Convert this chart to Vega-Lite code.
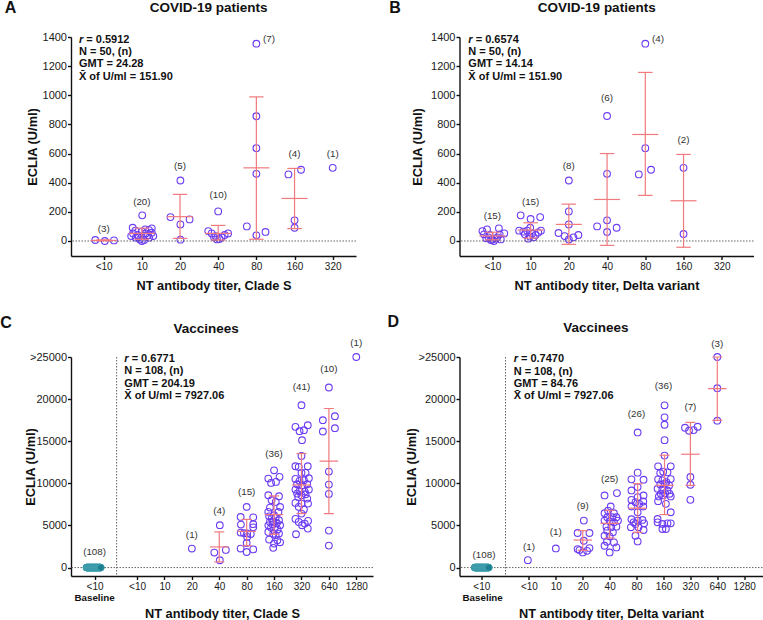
{
"$schema": "https://vega.github.io/schema/vega-lite/v6.json",
"background": "white",
"padding": {"left": 0, "top": 0, "right": 0, "bottom": 0},
"columns": 2,
"spacing": {"row": 22, "column": 13.5},
"concat": [
{
 "width": 285, "height": 219,
 "layer": [
  {"data": {"name": "pts"}, "transform": [{"filter": "datum.p=='A'"}],
   "mark": {"type": "point", "shape": "circle", "filled": false, "stroke": "#6c3cf2", "strokeWidth": 1.1, "size": 45, "opacity": 1},
   "encoding": {
    "x": {"field": "x", "type": "quantitative", "scale": {"domain": [-0.856, 6.61], "nice": false, "zero": false}, "axis": {"values": [0,1,2,3,4,5,6], "tickCount": 50, "labelOverlap": false, "labelExpr": "['<10','10','20','40','80','160','320'][datum.value]", "title": "NT antibody titer, Clade S", "titleY": 23}},
    "y": {"field": "y", "type": "quantitative", "scale": {"domain": [-103, 1400], "nice": false, "zero": false}, "axis": {"values": [0,200,400,600,800,1000,1200,1400], "tickCount": 50, "labelOverlap": false, "format": "d", "title": "ECLIA (U/ml)", "titleX": -32}}
   }},
  {"data": {"values": [{"v": 0}]}, "mark": {"type": "rule", "color": "#555555", "strokeDash": [1.5, 1.5], "strokeWidth": 0.9}, "encoding": {"y": {"field": "v", "type": "quantitative"}}},
  {"data": {"name": "eb"}, "transform": [{"filter": "datum.p=='A'"}], "mark": {"type": "rule", "color": "#f07a7e", "strokeWidth": 1.2}, "encoding": {"x": {"field": "x", "type": "quantitative"}, "y": {"field": "lo", "type": "quantitative"}, "y2": {"field": "hi"}}},
  {"data": {"name": "eb"}, "transform": [{"filter": "datum.p=='A'"}], "mark": {"type": "tick", "orient": "horizontal", "color": "#f07a7e", "thickness": 1.2, "size": 26, "opacity": 1}, "encoding": {"x": {"field": "x", "type": "quantitative"}, "y": {"field": "m", "type": "quantitative"}}},
  {"data": {"name": "eb"}, "transform": [{"filter": "datum.p=='A'"}], "mark": {"type": "tick", "orient": "horizontal", "color": "#f07a7e", "thickness": 1.2, "size": 14.5, "opacity": 1}, "encoding": {"x": {"field": "x", "type": "quantitative"}, "y": {"field": "lo", "type": "quantitative"}}},
  {"data": {"name": "eb"}, "transform": [{"filter": "datum.p=='A'"}], "mark": {"type": "tick", "orient": "horizontal", "color": "#f07a7e", "thickness": 1.2, "size": 14.5, "opacity": 1}, "encoding": {"x": {"field": "x", "type": "quantitative"}, "y": {"field": "hi", "type": "quantitative"}}},
  {"data": {"name": "cnt"}, "transform": [{"filter": "datum.p=='A'"}], "mark": {"type": "text", "fontSize": 9.8, "color": "#333333", "baseline": "middle", "align": "center"}, "encoding": {"x": {"field": "x", "type": "quantitative"}, "y": {"field": "y", "type": "quantitative"}, "text": {"field": "t"}}},
  {"data": {"name": "st"}, "transform": [{"filter": "datum.p=='A'"}], "mark": {"type": "text", "text": "r", "fontSize": 11, "fontWeight": "bold", "fontStyle": "italic", "align": "left", "baseline": "alphabetic", "color": "#111111"}, "encoding": {"x": {"field": "x", "type": "quantitative"}, "y": {"field": "y", "type": "quantitative"}}},
  {"data": {"name": "st"}, "transform": [{"filter": "datum.p=='A'"}], "mark": {"type": "text", "fontSize": 11, "fontWeight": "bold", "align": "left", "baseline": "alphabetic", "dx": 7.3, "color": "#111111"}, "encoding": {"x": {"field": "x", "type": "quantitative"}, "y": {"field": "y", "type": "quantitative"}, "text": {"field": "r"}}},
  {"data": {"name": "st"}, "transform": [{"filter": "datum.p=='A'"}], "mark": {"type": "text", "fontSize": 11, "fontWeight": "bold", "align": "left", "baseline": "alphabetic", "dy": 12.2, "lineHeight": 12.2, "lineBreak": "\n", "color": "#111111"}, "encoding": {"x": {"field": "x", "type": "quantitative"}, "y": {"field": "y", "type": "quantitative"}, "text": {"field": "rest"}}},
  {"data": {"name": "lab"}, "transform": [{"filter": "datum.p=='A' && datum.k=='t'"}], "mark": {"type": "text", "fontSize": 13.5, "fontWeight": "bold", "align": "center", "baseline": "middle", "color": "#111111"}, "encoding": {"x": {"field": "x", "type": "quantitative"}, "y": {"field": "y", "type": "quantitative"}, "text": {"field": "t"}}},
  {"data": {"name": "lab"}, "transform": [{"filter": "datum.p=='A' && datum.k=='l'"}], "mark": {"type": "text", "fontSize": 16, "fontWeight": "bold", "align": "center", "baseline": "middle", "color": "#111111"}, "encoding": {"x": {"field": "x", "type": "quantitative"}, "y": {"field": "y", "type": "quantitative"}, "text": {"field": "t"}}}
 ]
},
{
 "width": 294, "height": 219,
 "layer": [
  {"data": {"name": "pts"}, "transform": [{"filter": "datum.p=='B'"}],
   "mark": {"type": "point", "shape": "circle", "filled": false, "stroke": "#6c3cf2", "strokeWidth": 1.1, "size": 45, "opacity": 1},
   "encoding": {
    "x": {"field": "x", "type": "quantitative", "scale": {"domain": [-0.86, 6.83], "nice": false, "zero": false}, "axis": {"values": [0,1,2,3,4,5,6], "tickCount": 50, "labelOverlap": false, "labelExpr": "['<10','10','20','40','80','160','320'][datum.value]", "title": "NT antibody titer, Delta variant", "titleY": 23}},
    "y": {"field": "y", "type": "quantitative", "scale": {"domain": [-103, 1400], "nice": false, "zero": false}, "axis": {"values": [0,200,400,600,800,1000,1200,1400], "tickCount": 50, "labelOverlap": false, "format": "d", "title": "ECLIA (U/ml)", "titleX": -34.8}}
   }},
  {"data": {"values": [{"v": 0}]}, "mark": {"type": "rule", "color": "#555555", "strokeDash": [1.5, 1.5], "strokeWidth": 0.9}, "encoding": {"y": {"field": "v", "type": "quantitative"}}},
  {"data": {"name": "eb"}, "transform": [{"filter": "datum.p=='B'"}], "mark": {"type": "rule", "color": "#f07a7e", "strokeWidth": 1.2}, "encoding": {"x": {"field": "x", "type": "quantitative"}, "y": {"field": "lo", "type": "quantitative"}, "y2": {"field": "hi"}}},
  {"data": {"name": "eb"}, "transform": [{"filter": "datum.p=='B'"}], "mark": {"type": "tick", "orient": "horizontal", "color": "#f07a7e", "thickness": 1.2, "size": 26, "opacity": 1}, "encoding": {"x": {"field": "x", "type": "quantitative"}, "y": {"field": "m", "type": "quantitative"}}},
  {"data": {"name": "eb"}, "transform": [{"filter": "datum.p=='B'"}], "mark": {"type": "tick", "orient": "horizontal", "color": "#f07a7e", "thickness": 1.2, "size": 14.5, "opacity": 1}, "encoding": {"x": {"field": "x", "type": "quantitative"}, "y": {"field": "lo", "type": "quantitative"}}},
  {"data": {"name": "eb"}, "transform": [{"filter": "datum.p=='B'"}], "mark": {"type": "tick", "orient": "horizontal", "color": "#f07a7e", "thickness": 1.2, "size": 14.5, "opacity": 1}, "encoding": {"x": {"field": "x", "type": "quantitative"}, "y": {"field": "hi", "type": "quantitative"}}},
  {"data": {"name": "cnt"}, "transform": [{"filter": "datum.p=='B'"}], "mark": {"type": "text", "fontSize": 9.8, "color": "#333333", "baseline": "middle", "align": "center"}, "encoding": {"x": {"field": "x", "type": "quantitative"}, "y": {"field": "y", "type": "quantitative"}, "text": {"field": "t"}}},
  {"data": {"name": "st"}, "transform": [{"filter": "datum.p=='B'"}], "mark": {"type": "text", "text": "r", "fontSize": 11, "fontWeight": "bold", "fontStyle": "italic", "align": "left", "baseline": "alphabetic", "color": "#111111"}, "encoding": {"x": {"field": "x", "type": "quantitative"}, "y": {"field": "y", "type": "quantitative"}}},
  {"data": {"name": "st"}, "transform": [{"filter": "datum.p=='B'"}], "mark": {"type": "text", "fontSize": 11, "fontWeight": "bold", "align": "left", "baseline": "alphabetic", "dx": 7.3, "color": "#111111"}, "encoding": {"x": {"field": "x", "type": "quantitative"}, "y": {"field": "y", "type": "quantitative"}, "text": {"field": "r"}}},
  {"data": {"name": "st"}, "transform": [{"filter": "datum.p=='B'"}], "mark": {"type": "text", "fontSize": 11, "fontWeight": "bold", "align": "left", "baseline": "alphabetic", "dy": 12.2, "lineHeight": 12.2, "lineBreak": "\n", "color": "#111111"}, "encoding": {"x": {"field": "x", "type": "quantitative"}, "y": {"field": "y", "type": "quantitative"}, "text": {"field": "rest"}}},
  {"data": {"name": "lab"}, "transform": [{"filter": "datum.p=='B' && datum.k=='t'"}], "mark": {"type": "text", "fontSize": 13.5, "fontWeight": "bold", "align": "center", "baseline": "middle", "color": "#111111"}, "encoding": {"x": {"field": "x", "type": "quantitative"}, "y": {"field": "y", "type": "quantitative"}, "text": {"field": "t"}}},
  {"data": {"name": "lab"}, "transform": [{"filter": "datum.p=='B' && datum.k=='l'"}], "mark": {"type": "text", "fontSize": 16, "fontWeight": "bold", "align": "center", "baseline": "middle", "color": "#111111"}, "encoding": {"x": {"field": "x", "type": "quantitative"}, "y": {"field": "y", "type": "quantitative"}, "text": {"field": "t"}}}
 ]
},
{
 "width": 302, "height": 219,
 "layer": [
  {"data": {"name": "pts"}, "transform": [{"filter": "datum.p=='C'"}],
   "mark": {"type": "point", "shape": "circle", "filled": false, "stroke": "#6c3cf2", "strokeWidth": 1.1, "size": 45, "opacity": 1},
   "encoding": {
    "x": {"field": "x", "type": "quantitative", "scale": {"domain": [-2.41, 8.61], "nice": false, "zero": false}, "axis": {"values": [-1.55,0,1,2,3,4,5,6,7,8], "tickCount": 50, "labelOverlap": false, "labelExpr": "datum.value < 0 ? '<10' : ['<10','10','20','40','80','160','320','640','1280'][datum.value]", "title": "NT antibody titer, Clade S", "titleY": 31.6}},
    "y": {"field": "y", "type": "quantitative", "scale": {"domain": [-1000, 25000], "nice": false, "zero": false}, "axis": {"values": [0,5000,10000,15000,20000,25000], "tickCount": 50, "labelOverlap": false, "labelExpr": "datum.value >= 25000 ? '>25000' : '' + datum.value", "title": "ECLIA (U/ml)", "titleX": -33.1}}
   }},
  {"data": {"values": [{"v": 0}]}, "mark": {"type": "rule", "color": "#555555", "strokeDash": [1.5, 1.5], "strokeWidth": 0.9}, "encoding": {"y": {"field": "v", "type": "quantitative"}}},
  {"data": {"values": [{"w": -0.745}]}, "mark": {"type": "rule", "color": "#555555", "strokeDash": [1.5, 1.5], "strokeWidth": 0.9}, "encoding": {"x": {"field": "w", "type": "quantitative"}}},
  {"data": {"name": "base"}, "transform": [{"filter": "datum.p=='C'"}], "mark": {"type": "point", "shape": "circle", "filled": true, "fill": "#1b7f8f", "stroke": "#4aa6b3", "strokeWidth": 0.6, "size": 45, "opacity": 1}, "encoding": {"x": {"field": "x", "type": "quantitative"}, "y": {"datum": 0}}},
  {"data": {"name": "eb"}, "transform": [{"filter": "datum.p=='C'"}], "mark": {"type": "rule", "color": "#f07a7e", "strokeWidth": 1.2}, "encoding": {"x": {"field": "x", "type": "quantitative"}, "y": {"field": "lo", "type": "quantitative"}, "y2": {"field": "hi"}}},
  {"data": {"name": "eb"}, "transform": [{"filter": "datum.p=='C'"}], "mark": {"type": "tick", "orient": "horizontal", "color": "#f07a7e", "thickness": 1.2, "size": 18.5, "opacity": 1}, "encoding": {"x": {"field": "x", "type": "quantitative"}, "y": {"field": "m", "type": "quantitative"}}},
  {"data": {"name": "eb"}, "transform": [{"filter": "datum.p=='C'"}], "mark": {"type": "tick", "orient": "horizontal", "color": "#f07a7e", "thickness": 1.2, "size": 10, "opacity": 1}, "encoding": {"x": {"field": "x", "type": "quantitative"}, "y": {"field": "lo", "type": "quantitative"}}},
  {"data": {"name": "eb"}, "transform": [{"filter": "datum.p=='C'"}], "mark": {"type": "tick", "orient": "horizontal", "color": "#f07a7e", "thickness": 1.2, "size": 10, "opacity": 1}, "encoding": {"x": {"field": "x", "type": "quantitative"}, "y": {"field": "hi", "type": "quantitative"}}},
  {"data": {"name": "cnt"}, "transform": [{"filter": "datum.p=='C'"}], "mark": {"type": "text", "fontSize": 9.8, "color": "#333333", "baseline": "middle", "align": "center"}, "encoding": {"x": {"field": "x", "type": "quantitative"}, "y": {"field": "y", "type": "quantitative"}, "text": {"field": "t"}}},
  {"data": {"name": "st"}, "transform": [{"filter": "datum.p=='C'"}], "mark": {"type": "text", "text": "r", "fontSize": 11, "fontWeight": "bold", "fontStyle": "italic", "align": "left", "baseline": "alphabetic", "color": "#111111"}, "encoding": {"x": {"field": "x", "type": "quantitative"}, "y": {"field": "y", "type": "quantitative"}}},
  {"data": {"name": "st"}, "transform": [{"filter": "datum.p=='C'"}], "mark": {"type": "text", "fontSize": 11, "fontWeight": "bold", "align": "left", "baseline": "alphabetic", "dx": 7.3, "color": "#111111"}, "encoding": {"x": {"field": "x", "type": "quantitative"}, "y": {"field": "y", "type": "quantitative"}, "text": {"field": "r"}}},
  {"data": {"name": "st"}, "transform": [{"filter": "datum.p=='C'"}], "mark": {"type": "text", "fontSize": 11, "fontWeight": "bold", "align": "left", "baseline": "alphabetic", "dy": 12.2, "lineHeight": 12.2, "lineBreak": "\n", "color": "#111111"}, "encoding": {"x": {"field": "x", "type": "quantitative"}, "y": {"field": "y", "type": "quantitative"}, "text": {"field": "rest"}}},
  {"data": {"name": "lab"}, "transform": [{"filter": "datum.p=='C' && datum.k=='t'"}], "mark": {"type": "text", "fontSize": 13.5, "fontWeight": "bold", "align": "center", "baseline": "middle", "color": "#111111"}, "encoding": {"x": {"field": "x", "type": "quantitative"}, "y": {"field": "y", "type": "quantitative"}, "text": {"field": "t"}}},
  {"data": {"name": "lab"}, "transform": [{"filter": "datum.p=='C' && datum.k=='l'"}], "mark": {"type": "text", "fontSize": 16, "fontWeight": "bold", "align": "center", "baseline": "middle", "color": "#111111"}, "encoding": {"x": {"field": "x", "type": "quantitative"}, "y": {"field": "y", "type": "quantitative"}, "text": {"field": "t"}}},
  {"data": {"name": "lab"}, "transform": [{"filter": "datum.p=='C' && datum.k=='b'"}], "mark": {"type": "text", "fontSize": 9.8, "fontWeight": "bold", "align": "center", "baseline": "middle", "color": "#111111"}, "encoding": {"x": {"field": "x", "type": "quantitative"}, "y": {"field": "y", "type": "quantitative"}, "text": {"field": "t"}}}
 ]
},
{
 "width": 303, "height": 219,
 "layer": [
  {"data": {"name": "pts"}, "transform": [{"filter": "datum.p=='D'"}],
   "mark": {"type": "point", "shape": "circle", "filled": false, "stroke": "#6c3cf2", "strokeWidth": 1.1, "size": 45, "opacity": 1},
   "encoding": {
    "x": {"field": "x", "type": "quantitative", "scale": {"domain": [-2.58, 8.68], "nice": false, "zero": false}, "axis": {"values": [-1.77,0,1,2,3,4,5,6,7,8], "tickCount": 50, "labelOverlap": false, "labelExpr": "datum.value < 0 ? '<10' : ['<10','10','20','40','80','160','320','640','1280'][datum.value]", "title": "NT antibody titer, Delta variant", "titleY": 31.3}},
    "y": {"field": "y", "type": "quantitative", "scale": {"domain": [-1000, 25000], "nice": false, "zero": false}, "axis": {"values": [0,5000,10000,15000,20000,25000], "tickCount": 50, "labelOverlap": false, "labelExpr": "datum.value >= 25000 ? '>25000' : '' + datum.value", "title": "ECLIA (U/ml)", "titleX": -40.8}}
   }},
  {"data": {"values": [{"v": 0}]}, "mark": {"type": "rule", "color": "#555555", "strokeDash": [1.5, 1.5], "strokeWidth": 0.9}, "encoding": {"y": {"field": "v", "type": "quantitative"}}},
  {"data": {"values": [{"w": -0.87}]}, "mark": {"type": "rule", "color": "#555555", "strokeDash": [1.5, 1.5], "strokeWidth": 0.9}, "encoding": {"x": {"field": "w", "type": "quantitative"}}},
  {"data": {"name": "base"}, "transform": [{"filter": "datum.p=='D'"}], "mark": {"type": "point", "shape": "circle", "filled": true, "fill": "#1b7f8f", "stroke": "#4aa6b3", "strokeWidth": 0.6, "size": 45, "opacity": 1}, "encoding": {"x": {"field": "x", "type": "quantitative"}, "y": {"datum": 0}}},
  {"data": {"name": "eb"}, "transform": [{"filter": "datum.p=='D'"}], "mark": {"type": "rule", "color": "#f07a7e", "strokeWidth": 1.2}, "encoding": {"x": {"field": "x", "type": "quantitative"}, "y": {"field": "lo", "type": "quantitative"}, "y2": {"field": "hi"}}},
  {"data": {"name": "eb"}, "transform": [{"filter": "datum.p=='D'"}], "mark": {"type": "tick", "orient": "horizontal", "color": "#f07a7e", "thickness": 1.2, "size": 18.5, "opacity": 1}, "encoding": {"x": {"field": "x", "type": "quantitative"}, "y": {"field": "m", "type": "quantitative"}}},
  {"data": {"name": "eb"}, "transform": [{"filter": "datum.p=='D'"}], "mark": {"type": "tick", "orient": "horizontal", "color": "#f07a7e", "thickness": 1.2, "size": 10, "opacity": 1}, "encoding": {"x": {"field": "x", "type": "quantitative"}, "y": {"field": "lo", "type": "quantitative"}}},
  {"data": {"name": "eb"}, "transform": [{"filter": "datum.p=='D'"}], "mark": {"type": "tick", "orient": "horizontal", "color": "#f07a7e", "thickness": 1.2, "size": 10, "opacity": 1}, "encoding": {"x": {"field": "x", "type": "quantitative"}, "y": {"field": "hi", "type": "quantitative"}}},
  {"data": {"name": "cnt"}, "transform": [{"filter": "datum.p=='D'"}], "mark": {"type": "text", "fontSize": 9.8, "color": "#333333", "baseline": "middle", "align": "center"}, "encoding": {"x": {"field": "x", "type": "quantitative"}, "y": {"field": "y", "type": "quantitative"}, "text": {"field": "t"}}},
  {"data": {"name": "st"}, "transform": [{"filter": "datum.p=='D'"}], "mark": {"type": "text", "text": "r", "fontSize": 11, "fontWeight": "bold", "fontStyle": "italic", "align": "left", "baseline": "alphabetic", "color": "#111111"}, "encoding": {"x": {"field": "x", "type": "quantitative"}, "y": {"field": "y", "type": "quantitative"}}},
  {"data": {"name": "st"}, "transform": [{"filter": "datum.p=='D'"}], "mark": {"type": "text", "fontSize": 11, "fontWeight": "bold", "align": "left", "baseline": "alphabetic", "dx": 7.3, "color": "#111111"}, "encoding": {"x": {"field": "x", "type": "quantitative"}, "y": {"field": "y", "type": "quantitative"}, "text": {"field": "r"}}},
  {"data": {"name": "st"}, "transform": [{"filter": "datum.p=='D'"}], "mark": {"type": "text", "fontSize": 11, "fontWeight": "bold", "align": "left", "baseline": "alphabetic", "dy": 12.2, "lineHeight": 12.2, "lineBreak": "\n", "color": "#111111"}, "encoding": {"x": {"field": "x", "type": "quantitative"}, "y": {"field": "y", "type": "quantitative"}, "text": {"field": "rest"}}},
  {"data": {"name": "lab"}, "transform": [{"filter": "datum.p=='D' && datum.k=='t'"}], "mark": {"type": "text", "fontSize": 13.5, "fontWeight": "bold", "align": "center", "baseline": "middle", "color": "#111111"}, "encoding": {"x": {"field": "x", "type": "quantitative"}, "y": {"field": "y", "type": "quantitative"}, "text": {"field": "t"}}},
  {"data": {"name": "lab"}, "transform": [{"filter": "datum.p=='D' && datum.k=='l'"}], "mark": {"type": "text", "fontSize": 16, "fontWeight": "bold", "align": "center", "baseline": "middle", "color": "#111111"}, "encoding": {"x": {"field": "x", "type": "quantitative"}, "y": {"field": "y", "type": "quantitative"}, "text": {"field": "t"}}},
  {"data": {"name": "lab"}, "transform": [{"filter": "datum.p=='D' && datum.k=='b'"}], "mark": {"type": "text", "fontSize": 9.8, "fontWeight": "bold", "align": "center", "baseline": "middle", "color": "#111111"}, "encoding": {"x": {"field": "x", "type": "quantitative"}, "y": {"field": "y", "type": "quantitative"}, "text": {"field": "t"}}}
 ]
}
],
"datasets": {
"pts": [
{"p":"A","x":-0.22,"y":7},{"p":"A","x":0.03,"y":0},{"p":"A","x":0.27,"y":4},
{"p":"A","x":1.01,"y":176},{"p":"A","x":0.76,"y":91},{"p":"A","x":1.26,"y":87},{"p":"A","x":0.83,"y":71},{"p":"A","x":1.19,"y":75},{"p":"A","x":0.77,"y":52},{"p":"A","x":1.26,"y":57},{"p":"A","x":0.89,"y":41},{"p":"A","x":1.1,"y":52},{"p":"A","x":0.84,"y":23},{"p":"A","x":1.19,"y":23},{"p":"A","x":0.95,"y":11},{"p":"A","x":1.06,"y":7},{"p":"A","x":1.0,"y":0},{"p":"A","x":0.91,"y":25},{"p":"A","x":1.16,"y":39},{"p":"A","x":1.0,"y":64},{"p":"A","x":1.3,"y":34},{"p":"A","x":0.72,"y":34},{"p":"A","x":1.09,"y":80},
{"p":"A","x":2.01,"y":415},{"p":"A","x":1.75,"y":164},{"p":"A","x":2.25,"y":148},{"p":"A","x":2.01,"y":114},{"p":"A","x":2.01,"y":9},
{"p":"A","x":3.0,"y":203},{"p":"A","x":2.74,"y":68},{"p":"A","x":2.83,"y":52},{"p":"A","x":2.93,"y":34},{"p":"A","x":3.03,"y":14},{"p":"A","x":3.09,"y":25},{"p":"A","x":3.17,"y":41},{"p":"A","x":3.26,"y":52},{"p":"A","x":2.89,"y":25},{"p":"A","x":2.97,"y":11},
{"p":"A","x":4,"y":1354},{"p":"A","x":4,"y":856},{"p":"A","x":4,"y":637},{"p":"A","x":4,"y":461},{"p":"A","x":3.75,"y":100},{"p":"A","x":4.24,"y":62},{"p":"A","x":4,"y":39},
{"p":"A","x":4.84,"y":457},{"p":"A","x":5.17,"y":489},{"p":"A","x":5,"y":142},{"p":"A","x":5,"y":91},
{"p":"A","x":6,"y":502},
{"p":"B","x":-0.26,"y":68},{"p":"B","x":-0.14,"y":80},{"p":"B","x":0.17,"y":87},{"p":"B","x":-0.22,"y":46},{"p":"B","x":0.31,"y":52},{"p":"B","x":-0.1,"y":25},{"p":"B","x":0.13,"y":25},{"p":"B","x":-0.04,"y":7},{"p":"B","x":0.04,"y":0},{"p":"B","x":0.22,"y":11},{"p":"B","x":-0.16,"y":18},{"p":"B","x":0.09,"y":16},{"p":"B","x":0,"y":11},{"p":"B","x":-0.07,"y":41},{"p":"B","x":0.19,"y":46},
{"p":"B","x":0.74,"y":176},{"p":"B","x":1.25,"y":164},{"p":"B","x":1.0,"y":151},{"p":"B","x":0.99,"y":91},{"p":"B","x":0.7,"y":71},{"p":"B","x":0.81,"y":64},{"p":"B","x":0.91,"y":71},{"p":"B","x":1.27,"y":71},{"p":"B","x":1.2,"y":59},{"p":"B","x":0.85,"y":46},{"p":"B","x":0.98,"y":30},{"p":"B","x":1.08,"y":25},{"p":"B","x":0.94,"y":16},{"p":"B","x":1.13,"y":41},{"p":"B","x":1.04,"y":52},
{"p":"B","x":2,"y":415},{"p":"B","x":2,"y":203},{"p":"B","x":2,"y":114},{"p":"B","x":1.73,"y":55},{"p":"B","x":1.89,"y":34},{"p":"B","x":2,"y":11},{"p":"B","x":2.12,"y":25},{"p":"B","x":2.25,"y":41},
{"p":"B","x":3,"y":858},{"p":"B","x":3,"y":461},{"p":"B","x":3,"y":142},{"p":"B","x":2.74,"y":100},{"p":"B","x":3.25,"y":91},{"p":"B","x":3,"y":62},
{"p":"B","x":4,"y":1354},{"p":"B","x":4,"y":637},{"p":"B","x":3.83,"y":457},{"p":"B","x":4.15,"y":489},
{"p":"B","x":5,"y":502},{"p":"B","x":5,"y":48},
{"p":"C","x":2,"y":2257},
{"p":"C","x":3.02,"y":5030},{"p":"C","x":2.82,"y":1782},{"p":"C","x":3.24,"y":2099},{"p":"C","x":3.02,"y":871},
{"p":"C","x":4,"y":7200},{"p":"C","x":3.78,"y":6010},{"p":"C","x":4.24,"y":5970},{"p":"C","x":3.79,"y":5110},{"p":"C","x":4.24,"y":5150},{"p":"C","x":4.24,"y":4780},{"p":"C","x":3.78,"y":4160},{"p":"C","x":3.9,"y":4100},{"p":"C","x":4.02,"y":4050},{"p":"C","x":4.15,"y":3980},{"p":"C","x":4.02,"y":3640},{"p":"C","x":4,"y":2920},{"p":"C","x":3.78,"y":2260},{"p":"C","x":4,"y":1850},{"p":"C","x":4.24,"y":2160},
{"p":"C","x":5,"y":11550},{"p":"C","x":4.79,"y":10570},{"p":"C","x":5.2,"y":10770},{"p":"C","x":4.89,"y":10050},{"p":"C","x":5.07,"y":10170},{"p":"C","x":4.79,"y":8590},{"p":"C","x":5.18,"y":8470},{"p":"C","x":4.91,"y":8000},{"p":"C","x":5.06,"y":7800},{"p":"C","x":5.22,"y":7200},{"p":"C","x":4.85,"y":7120},{"p":"C","x":4.79,"y":6610},{"p":"C","x":5.16,"y":6600},{"p":"C","x":5,"y":6210},{"p":"C","x":4.82,"y":6090},{"p":"C","x":4.91,"y":5820},{"p":"C","x":5.06,"y":5940},{"p":"C","x":5.18,"y":5620},{"p":"C","x":4.85,"y":5420},{"p":"C","x":4.97,"y":5430},{"p":"C","x":5.1,"y":5300},{"p":"C","x":4.79,"y":5020},{"p":"C","x":4.94,"y":5140},{"p":"C","x":5.22,"y":5030},{"p":"C","x":5.04,"y":4830},{"p":"C","x":4.89,"y":4750},{"p":"C","x":5.13,"y":4510},{"p":"C","x":4.79,"y":4230},{"p":"C","x":4.97,"y":4030},{"p":"C","x":5.18,"y":4040},{"p":"C","x":5.06,"y":3840},{"p":"C","x":4.82,"y":3320},{"p":"C","x":5.22,"y":3000},{"p":"C","x":5,"y":2850},{"p":"C","x":5.12,"y":3240},{"p":"C","x":4.97,"y":2340},
{"p":"C","x":6,"y":19280},{"p":"C","x":5.78,"y":16706},{"p":"C","x":6.23,"y":16904},{"p":"C","x":6.09,"y":16310},{"p":"C","x":5.93,"y":16190},{"p":"C","x":6.02,"y":15122},{"p":"C","x":6,"y":13261},{"p":"C","x":5.78,"y":12033},{"p":"C","x":5.9,"y":11954},{"p":"C","x":6.23,"y":12033},{"p":"C","x":6,"y":11242},{"p":"C","x":6.15,"y":11242},{"p":"C","x":5.78,"y":10528},{"p":"C","x":6.27,"y":10607},{"p":"C","x":5.93,"y":10291},{"p":"C","x":6.09,"y":10370},{"p":"C","x":5.84,"y":9895},{"p":"C","x":6.02,"y":9776},{"p":"C","x":6.21,"y":9895},{"p":"C","x":5.78,"y":9261},{"p":"C","x":5.93,"y":9064},{"p":"C","x":6.12,"y":9025},{"p":"C","x":6.27,"y":9261},{"p":"C","x":5.84,"y":8786},{"p":"C","x":6,"y":8588},{"p":"C","x":6.15,"y":8707},{"p":"C","x":5.88,"y":8390},{"p":"C","x":6.21,"y":8192},{"p":"C","x":6,"y":7598},{"p":"C","x":5.78,"y":7677},{"p":"C","x":6.24,"y":7598},{"p":"C","x":5.9,"y":7202},{"p":"C","x":6.09,"y":6885},{"p":"C","x":6,"y":6410},{"p":"C","x":5.78,"y":5776},{"p":"C","x":6.24,"y":5539},{"p":"C","x":5.9,"y":5420},{"p":"C","x":6.12,"y":5222},{"p":"C","x":6.02,"y":5024},{"p":"C","x":5.8,"y":3955},{"p":"C","x":6.23,"y":4628},
{"p":"C","x":7,"y":21379},{"p":"C","x":6.78,"y":17498},{"p":"C","x":7.22,"y":17973},{"p":"C","x":6.78,"y":16152},{"p":"C","x":7.22,"y":16548},{"p":"C","x":7,"y":11400},{"p":"C","x":7,"y":9855},{"p":"C","x":7,"y":8746},{"p":"C","x":7,"y":4390},{"p":"C","x":7,"y":2608},
{"p":"C","x":8,"y":25000},
{"p":"D","x":-0.04,"y":880},
{"p":"D","x":1,"y":2273},
{"p":"D","x":2.04,"y":5576},{"p":"D","x":1.81,"y":4103},{"p":"D","x":2.25,"y":4103},{"p":"D","x":2.04,"y":3188},{"p":"D","x":1.81,"y":2193},{"p":"D","x":2.25,"y":2313},{"p":"D","x":2,"y":1795},{"p":"D","x":1.88,"y":2074},{"p":"D","x":2.16,"y":1994},
{"p":"D","x":2.81,"y":8562},{"p":"D","x":3.27,"y":8840},{"p":"D","x":3.04,"y":7248},{"p":"D","x":2.81,"y":6451},{"p":"D","x":3.16,"y":6451},{"p":"D","x":2.91,"y":5974},{"p":"D","x":3.25,"y":5974},{"p":"D","x":2.81,"y":5576},{"p":"D","x":3,"y":5496},{"p":"D","x":3.16,"y":5377},{"p":"D","x":3.31,"y":5576},{"p":"D","x":2.88,"y":4859},{"p":"D","x":3.06,"y":4779},{"p":"D","x":3.25,"y":4859},{"p":"D","x":2.91,"y":4382},{"p":"D","x":3.12,"y":4182},{"p":"D","x":2.81,"y":3784},{"p":"D","x":3,"y":3706},{"p":"D","x":2.9,"y":3069},{"p":"D","x":2.81,"y":2590},{"p":"D","x":3.25,"y":2393},{"p":"D","x":3,"y":1795},{"p":"D","x":3.16,"y":2990},{"p":"D","x":3.09,"y":5974},{"p":"D","x":2.94,"y":6770},
{"p":"D","x":4.04,"y":16043},{"p":"D","x":4.04,"y":11268},{"p":"D","x":3.81,"y":10472},{"p":"D","x":4.26,"y":10432},{"p":"D","x":4.04,"y":9556},{"p":"D","x":3.81,"y":9158},{"p":"D","x":4.26,"y":8561},{"p":"D","x":4.04,"y":8362},{"p":"D","x":3.81,"y":8044},{"p":"D","x":4.25,"y":7845},{"p":"D","x":3.96,"y":7765},{"p":"D","x":4.1,"y":7566},{"p":"D","x":3.81,"y":7248},{"p":"D","x":4.25,"y":7248},{"p":"D","x":4.04,"y":6571},{"p":"D","x":3.81,"y":5735},{"p":"D","x":4.04,"y":5576},{"p":"D","x":4.22,"y":5655},{"p":"D","x":3.89,"y":5377},{"p":"D","x":3.96,"y":5178},{"p":"D","x":4.28,"y":5258},{"p":"D","x":3.79,"y":4780},{"p":"D","x":4.07,"y":4780},{"p":"D","x":4.26,"y":4461},{"p":"D","x":3.96,"y":3785},{"p":"D","x":4.04,"y":3109},
{"p":"D","x":5.04,"y":19267},{"p":"D","x":5.04,"y":17834},{"p":"D","x":5.04,"y":16959},{"p":"D","x":5.04,"y":15128},{"p":"D","x":5.04,"y":13297},{"p":"D","x":4.8,"y":12024},{"p":"D","x":5.27,"y":12024},{"p":"D","x":4.99,"y":11386},{"p":"D","x":4.88,"y":11228},{"p":"D","x":5.15,"y":11307},{"p":"D","x":4.8,"y":10472},{"p":"D","x":5.27,"y":10512},{"p":"D","x":4.96,"y":10352},{"p":"D","x":5.11,"y":10153},{"p":"D","x":4.88,"y":9874},{"p":"D","x":5.05,"y":9954},{"p":"D","x":5.21,"y":9755},{"p":"D","x":4.78,"y":9357},{"p":"D","x":4.96,"y":9238},{"p":"D","x":5.15,"y":9158},{"p":"D","x":4.9,"y":8760},{"p":"D","x":5.06,"y":8840},{"p":"D","x":5.23,"y":8760},{"p":"D","x":4.83,"y":8442},{"p":"D","x":4.99,"y":8561},{"p":"D","x":5.27,"y":8442},{"p":"D","x":4.8,"y":7885},{"p":"D","x":5.09,"y":7566},{"p":"D","x":5.27,"y":6571},{"p":"D","x":4.78,"y":5775},{"p":"D","x":4.96,"y":5178},{"p":"D","x":5.15,"y":5258},{"p":"D","x":4.78,"y":5377},{"p":"D","x":4.96,"y":4580},{"p":"D","x":5.09,"y":4580},{"p":"D","x":5.27,"y":5258},
{"p":"D","x":5.8,"y":16600},{"p":"D","x":5.95,"y":16242},{"p":"D","x":6.12,"y":16322},{"p":"D","x":6.27,"y":16720},{"p":"D","x":6,"y":10750},{"p":"D","x":6,"y":9834},{"p":"D","x":6,"y":8044},
{"p":"D","x":7,"y":25000},{"p":"D","x":7,"y":21297},{"p":"D","x":7,"y":17436}
],
"base": [
{"p":"C","x":-1.85},{"p":"C","x":-1.85},{"p":"C","x":-1.84},{"p":"C","x":-1.84},{"p":"C","x":-1.83},{"p":"C","x":-1.83},{"p":"C","x":-1.82},{"p":"C","x":-1.82},{"p":"C","x":-1.81},{"p":"C","x":-1.81},{"p":"C","x":-1.8},{"p":"C","x":-1.8},{"p":"C","x":-1.79},{"p":"C","x":-1.79},{"p":"C","x":-1.78},{"p":"C","x":-1.78},{"p":"C","x":-1.77},{"p":"C","x":-1.77},{"p":"C","x":-1.76},{"p":"C","x":-1.76},{"p":"C","x":-1.75},{"p":"C","x":-1.75},{"p":"C","x":-1.74},{"p":"C","x":-1.74},{"p":"C","x":-1.73},{"p":"C","x":-1.73},{"p":"C","x":-1.72},{"p":"C","x":-1.72},{"p":"C","x":-1.71},{"p":"C","x":-1.71},{"p":"C","x":-1.7},{"p":"C","x":-1.7},{"p":"C","x":-1.69},{"p":"C","x":-1.69},{"p":"C","x":-1.68},{"p":"C","x":-1.68},{"p":"C","x":-1.67},{"p":"C","x":-1.67},{"p":"C","x":-1.66},{"p":"C","x":-1.66},{"p":"C","x":-1.65},{"p":"C","x":-1.65},{"p":"C","x":-1.64},{"p":"C","x":-1.64},{"p":"C","x":-1.63},{"p":"C","x":-1.63},{"p":"C","x":-1.62},{"p":"C","x":-1.62},{"p":"C","x":-1.61},{"p":"C","x":-1.61},{"p":"C","x":-1.6},{"p":"C","x":-1.6},{"p":"C","x":-1.59},{"p":"C","x":-1.59},{"p":"C","x":-1.58},{"p":"C","x":-1.58},{"p":"C","x":-1.57},{"p":"C","x":-1.57},{"p":"C","x":-1.56},{"p":"C","x":-1.56},{"p":"C","x":-1.55},{"p":"C","x":-1.55},{"p":"C","x":-1.54},{"p":"C","x":-1.54},{"p":"C","x":-1.53},{"p":"C","x":-1.53},{"p":"C","x":-1.52},{"p":"C","x":-1.52},{"p":"C","x":-1.51},{"p":"C","x":-1.51},{"p":"C","x":-1.5},{"p":"C","x":-1.5},{"p":"C","x":-1.49},{"p":"C","x":-1.49},{"p":"C","x":-1.48},{"p":"C","x":-1.48},{"p":"C","x":-1.47},{"p":"C","x":-1.47},{"p":"C","x":-1.46},{"p":"C","x":-1.46},{"p":"C","x":-1.45},{"p":"C","x":-1.45},{"p":"C","x":-1.44},{"p":"C","x":-1.44},{"p":"C","x":-1.43},{"p":"C","x":-1.43},{"p":"C","x":-1.42},{"p":"C","x":-1.42},{"p":"C","x":-1.41},{"p":"C","x":-1.41},{"p":"C","x":-1.4},{"p":"C","x":-1.4},{"p":"C","x":-1.39},{"p":"C","x":-1.39},{"p":"C","x":-1.38},{"p":"C","x":-1.38},{"p":"C","x":-1.37},{"p":"C","x":-1.37},{"p":"C","x":-1.36},{"p":"C","x":-1.36},{"p":"C","x":-1.35},{"p":"C","x":-1.35},{"p":"C","x":-1.34},{"p":"C","x":-1.34},{"p":"C","x":-1.33},{"p":"C","x":-1.33},{"p":"C","x":-1.32},{"p":"C","x":-1.32},
{"p":"D","x":-2.02},{"p":"D","x":-2.02},{"p":"D","x":-2.01},{"p":"D","x":-2.01},{"p":"D","x":-2.0},{"p":"D","x":-2.0},{"p":"D","x":-1.99},{"p":"D","x":-1.99},{"p":"D","x":-1.98},{"p":"D","x":-1.98},{"p":"D","x":-1.97},{"p":"D","x":-1.97},{"p":"D","x":-1.96},{"p":"D","x":-1.96},{"p":"D","x":-1.95},{"p":"D","x":-1.95},{"p":"D","x":-1.94},{"p":"D","x":-1.94},{"p":"D","x":-1.93},{"p":"D","x":-1.93},{"p":"D","x":-1.92},{"p":"D","x":-1.92},{"p":"D","x":-1.91},{"p":"D","x":-1.91},{"p":"D","x":-1.9},{"p":"D","x":-1.9},{"p":"D","x":-1.89},{"p":"D","x":-1.89},{"p":"D","x":-1.88},{"p":"D","x":-1.88},{"p":"D","x":-1.87},{"p":"D","x":-1.87},{"p":"D","x":-1.86},{"p":"D","x":-1.86},{"p":"D","x":-1.85},{"p":"D","x":-1.85},{"p":"D","x":-1.84},{"p":"D","x":-1.84},{"p":"D","x":-1.83},{"p":"D","x":-1.83},{"p":"D","x":-1.82},{"p":"D","x":-1.82},{"p":"D","x":-1.81},{"p":"D","x":-1.81},{"p":"D","x":-1.8},{"p":"D","x":-1.8},{"p":"D","x":-1.79},{"p":"D","x":-1.79},{"p":"D","x":-1.78},{"p":"D","x":-1.78},{"p":"D","x":-1.77},{"p":"D","x":-1.77},{"p":"D","x":-1.76},{"p":"D","x":-1.76},{"p":"D","x":-1.75},{"p":"D","x":-1.75},{"p":"D","x":-1.74},{"p":"D","x":-1.74},{"p":"D","x":-1.73},{"p":"D","x":-1.73},{"p":"D","x":-1.72},{"p":"D","x":-1.72},{"p":"D","x":-1.71},{"p":"D","x":-1.71},{"p":"D","x":-1.7},{"p":"D","x":-1.7},{"p":"D","x":-1.69},{"p":"D","x":-1.69},{"p":"D","x":-1.68},{"p":"D","x":-1.68},{"p":"D","x":-1.67},{"p":"D","x":-1.67},{"p":"D","x":-1.66},{"p":"D","x":-1.66},{"p":"D","x":-1.65},{"p":"D","x":-1.65},{"p":"D","x":-1.64},{"p":"D","x":-1.64},{"p":"D","x":-1.63},{"p":"D","x":-1.63},{"p":"D","x":-1.62},{"p":"D","x":-1.62},{"p":"D","x":-1.61},{"p":"D","x":-1.61},{"p":"D","x":-1.6},{"p":"D","x":-1.6},{"p":"D","x":-1.59},{"p":"D","x":-1.59},{"p":"D","x":-1.58},{"p":"D","x":-1.58},{"p":"D","x":-1.57},{"p":"D","x":-1.57},{"p":"D","x":-1.56},{"p":"D","x":-1.56},{"p":"D","x":-1.55},{"p":"D","x":-1.55},{"p":"D","x":-1.54},{"p":"D","x":-1.54},{"p":"D","x":-1.53},{"p":"D","x":-1.53},{"p":"D","x":-1.52},{"p":"D","x":-1.52},{"p":"D","x":-1.51},{"p":"D","x":-1.51},{"p":"D","x":-1.5},{"p":"D","x":-1.5},{"p":"D","x":-1.49},{"p":"D","x":-1.49}
],
"eb": [
{"p":"A","x":0,"m":4,"lo":1,"hi":8},{"p":"A","x":1,"m":52,"lo":12,"hi":88},{"p":"A","x":2,"m":167,"lo":18,"hi":320},{"p":"A","x":3,"m":52,"lo":7,"hi":107},{"p":"A","x":4,"m":502,"lo":12,"hi":989},{"p":"A","x":5,"m":292,"lo":85,"hi":498},
{"p":"B","x":0,"m":35,"lo":8,"hi":60},{"p":"B","x":1,"m":75,"lo":20,"hi":125},{"p":"B","x":2,"m":114,"lo":-23,"hi":253},{"p":"B","x":3,"m":285,"lo":-30,"hi":600},{"p":"B","x":4,"m":731,"lo":313,"hi":1157},{"p":"B","x":5,"m":276,"lo":-43,"hi":594},
{"p":"C","x":3,"m":2455,"lo":673,"hi":4237},{"p":"C","x":4,"m":4300,"lo":2600,"hi":5720},{"p":"C","x":5,"m":6290,"lo":3955,"hi":8509},{"p":"C","x":6,"m":9800,"lo":6410,"hi":13540},{"p":"C","x":7,"m":12627,"lo":6410,"hi":18884},
{"p":"D","x":2,"m":3270,"lo":2050,"hi":4380},{"p":"D","x":3,"m":5250,"lo":3500,"hi":6800},{"p":"D","x":4.04,"m":7049,"lo":4183,"hi":9954},{"p":"D","x":5.04,"m":9755,"lo":6292,"hi":13337},{"p":"D","x":6,"m":13456,"lo":9755,"hi":17237},{"p":"D","x":7,"m":21240,"lo":17480,"hi":25000}
],
"cnt": [
{"p":"A","x":0,"y":80,"t":"(3)"},{"p":"A","x":1,"y":267,"t":"(20)"},{"p":"A","x":2,"y":516,"t":"(5)"},{"p":"A","x":3,"y":315,"t":"(10)"},{"p":"A","x":4.33,"y":1388,"t":"(7)"},{"p":"A","x":5,"y":596,"t":"(4)"},{"p":"A","x":6,"y":600,"t":"(1)"},
{"p":"B","x":0,"y":173,"t":"(15)"},{"p":"B","x":1,"y":267,"t":"(15)"},{"p":"B","x":2,"y":516,"t":"(8)"},{"p":"B","x":3,"y":984,"t":"(6)"},{"p":"B","x":4.33,"y":1388,"t":"(4)"},{"p":"B","x":5,"y":692,"t":"(2)"},
{"p":"C","x":-1.55,"y":1860,"t":"(108)"},{"p":"C","x":2,"y":3920,"t":"(1)"},{"p":"C","x":3,"y":6732,"t":"(4)"},{"p":"C","x":4,"y":8989,"t":"(15)"},{"p":"C","x":5,"y":13440,"t":"(36)"},{"p":"C","x":6,"y":21440,"t":"(41)"},{"p":"C","x":7,"y":23600,"t":"(10)"},{"p":"C","x":8,"y":26650,"t":"(1)"},
{"p":"D","x":-1.67,"y":1516,"t":"(108)"},{"p":"D","x":0,"y":2472,"t":"(1)"},{"p":"D","x":1,"y":4183,"t":"(1)"},{"p":"D","x":2,"y":7367,"t":"(9)"},{"p":"D","x":3,"y":10471,"t":"(25)"},{"p":"D","x":4,"y":18232,"t":"(26)"},{"p":"D","x":5,"y":21576,"t":"(36)"},{"p":"D","x":6,"y":19108,"t":"(7)"},{"p":"D","x":7,"y":26590,"t":"(3)"}
],
"st": [
{"p":"A","x":-0.647,"y":1359,"r":"= 0.5912","rest":"N = 50, (n)\nGMT = 24.28\nX\u0304 of U/ml = 151.90"},
{"p":"B","x":-0.628,"y":1359,"r":"= 0.6574","rest":"N = 50, (n)\nGMT = 14.14\nX\u0304 of U/ml = 151.90"},
{"p":"C","x":-0.464,"y":24390,"r":"= 0.6771","rest":"N = 108, (n)\nGMT = 204.19\nX\u0304 of U/ml = 7927.06"},
{"p":"D","x":-0.568,"y":24358,"r":"= 0.7470","rest":"N = 108, (n)\nGMT = 84.76\nX\u0304 of U/ml = 7927.06"}
],
"lab": [
{"p":"A","x":2.749,"y":1600,"t":"COVID-19 patients","k":"t"},{"p":"A","x":-2.44,"y":1597,"t":"A","k":"l"},
{"p":"B","x":2.73,"y":1600,"t":"COVID-19 patients","k":"t"},{"p":"B","x":-2.545,"y":1597,"t":"B","k":"l"},
{"p":"C","x":2.52,"y":28346,"t":"Vaccinees","k":"t"},{"p":"C","x":-4.78,"y":29023,"t":"C","k":"l"},{"p":"C","x":-1.55,"y":-3611,"t":"Baseline","k":"b"},
{"p":"D","x":2.49,"y":28417,"t":"Vaccinees","k":"t"},{"p":"D","x":-5.04,"y":29098,"t":"D","k":"l"},{"p":"D","x":-1.72,"y":-3582,"t":"Baseline","k":"b"}
]
},
"config": {
 "font": "Liberation Sans",
 "view": {"stroke": null},
 "axis": {"grid": false, "domainColor": "#111111", "domainWidth": 1.4, "tickColor": "#111111", "tickWidth": 1.4, "tickSize": 3.5, "labelFont": "Liberation Sans", "labelColor": "#1a1a1a", "titleFont": "Liberation Sans", "titleFontSize": 12.8, "titleFontWeight": "bold", "titleColor": "#111111", "labelFlush": false, "labelOverlap": false},
 "axisX": {"labelFontSize": 10, "labelPadding": 2},
 "axisY": {"labelFontSize": 11, "labelPadding": 1},
 "text": {"font": "Liberation Sans"}
}
}
